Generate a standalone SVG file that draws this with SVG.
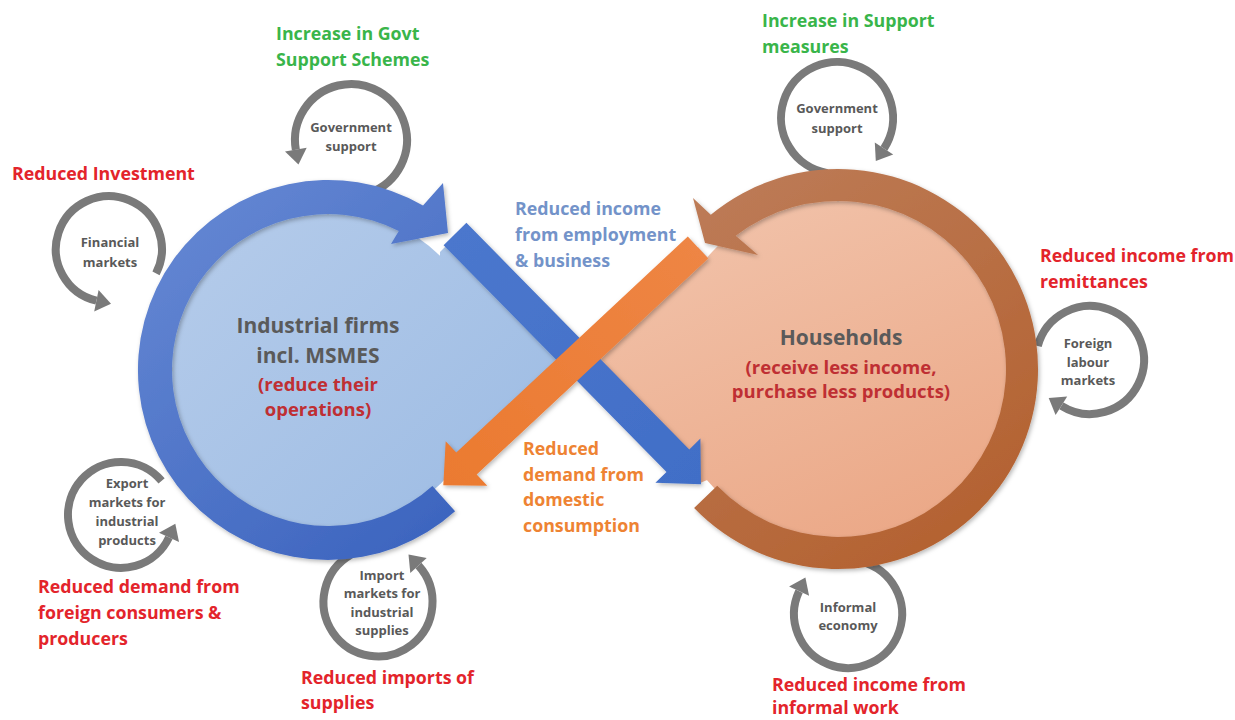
<svg xmlns="http://www.w3.org/2000/svg" width="1235" height="720" viewBox="0 0 1235 720">
  <defs>
    <linearGradient id="gFirmFill" gradientUnits="userSpaceOnUse" x1="200" y1="220" x2="480" y2="520">
      <stop offset="0" stop-color="#b4cbea"/>
      <stop offset="1" stop-color="#9fbde4"/>
    </linearGradient>
    <linearGradient id="gFirmRing" gradientUnits="userSpaceOnUse" x1="180" y1="200" x2="460" y2="540">
      <stop offset="0" stop-color="#6487d3"/>
      <stop offset="1" stop-color="#3b63be"/>
    </linearGradient>
    <linearGradient id="gHouseFill" gradientUnits="userSpaceOnUse" x1="760" y1="200" x2="900" y2="540">
      <stop offset="0" stop-color="#f1c1a8"/>
      <stop offset="1" stop-color="#eba887"/>
    </linearGradient>
    <linearGradient id="gHouseRing" gradientUnits="userSpaceOnUse" x1="700" y1="170" x2="980" y2="570">
      <stop offset="0" stop-color="#bd7c58"/>
      <stop offset="1" stop-color="#b3602e"/>
    </linearGradient>
    <linearGradient id="gBlueFlow" gradientUnits="userSpaceOnUse" x1="455" y1="234" x2="700" y2="484">
      <stop offset="0" stop-color="#4b77cd"/>
      <stop offset="1" stop-color="#416ec7"/>
    </linearGradient>
    <linearGradient id="gOrangeFlow" gradientUnits="userSpaceOnUse" x1="698" y1="247" x2="443" y2="485">
      <stop offset="0" stop-color="#ee8544"/>
      <stop offset="1" stop-color="#eb7a30"/>
    </linearGradient>
    <filter id="soft" x="-10%" y="-10%" width="120%" height="120%">
      <feDropShadow dx="1.5" dy="2" stdDeviation="2" flood-color="#000" flood-opacity="0.28"/>
    </filter>
  </defs>
  <style>
    .loop{fill:none;stroke:#7a7a7a;stroke-width:8}
    .loophead{fill:#7a7a7a}
    .lt{font-family:'Open Sans','Liberation Sans',sans-serif;font-weight:700;font-size:13px;fill:#595959;text-anchor:middle}
    .lbl{font-family:'Open Sans','Liberation Sans',sans-serif;font-weight:700;font-size:17.8px}
    .red{fill:#e3242b}
    .green{fill:#39b54a}
    .blue{fill:#7393c9}
    .orange{fill:#ee8333}
    .title{font-family:'Open Sans','Liberation Sans',sans-serif;font-weight:700;font-size:21px;fill:#5a5a5a;text-anchor:middle}
    .sub{font-family:'Open Sans','Liberation Sans',sans-serif;font-weight:700;font-size:18.5px;fill:#bf2f33;text-anchor:middle}
  </style>

  <rect width="1235" height="720" fill="#ffffff"/>

  <!-- small feedback loops around the two sectors -->
  <g id="govt-support-firms">
    <path class="loop" d="M370.2,192.6 A56,56 0 1 0 295.85,149.72"/>
    <polygon class="loophead" points="285.0,151.6 306.7,147.8 298.45,164.5"/>
    <text class="lt" x="351" y="132">Government</text>
    <text class="lt" x="351" y="151">support</text>
  </g>
  <g id="financial-markets">
    <path class="loop" d="M156.0,273.4 A53,53 0 1 0 96.4,300.7"/>
    <polygon class="loophead" points="94.2,311.5 98.6,289.9 111.0,303.7"/>
    <text class="lt" x="110" y="246.5">Financial</text>
    <text class="lt" x="110" y="266.5">markets</text>
  </g>
  <g id="export-markets">
    <path class="loop" d="M161.6,480.9 A53,53 0 1 0 169.0,537.4"/>
    <polygon class="loophead" points="179.0,542.0 159.0,532.8 175.3,523.8"/>
    <text class="lt" x="127" y="487.5">Export</text>
    <text class="lt" x="127" y="506.5">markets for</text>
    <text class="lt" x="127" y="525.5">industrial</text>
    <text class="lt" x="127" y="544.5">products</text>
  </g>
  <g id="import-markets">
    <path class="loop" d="M350.75,554.8 A54.5,54.5 0 1 0 418.5,565.5"/>
    <polygon class="loophead" points="426.7,558.1 410.3,572.9 408.5,554.4"/>
    <text class="lt" x="382" y="579.5">Import</text>
    <text class="lt" x="382" y="598">markets for</text>
    <text class="lt" x="382" y="616.5">industrial</text>
    <text class="lt" x="382" y="635">supplies</text>
  </g>
  <g id="govt-support-households">
    <path class="loop" d="M827.3,173.1 A56,56 0 1 1 884.0,148.5"/>
    <polygon class="loophead" points="893.2,154.5 874.8,142.5 875.8,161.1"/>
    <text class="lt" x="837" y="112.5">Government</text>
    <text class="lt" x="837" y="132.5">support</text>
  </g>
  <g id="foreign-labour-markets">
    <path class="loop" d="M1037.8,346.0 A54,54 0 1 1 1061.4,405.8"/>
    <polygon class="loophead" points="1055.6,415.1 1067.2,396.5 1048.7,397.9"/>
    <text class="lt" x="1088" y="347.5">Foreign</text>
    <text class="lt" x="1088" y="366.5">labour</text>
    <text class="lt" x="1088" y="385">markets</text>
  </g>
  <g id="informal-economy">
    <path class="loop" d="M862.0,561.8 A54,54 0 1 1 799.1,591.2"/>
    <polygon class="loophead" points="789.1,586.6 809.1,595.8 805.4,577.6"/>
    <text class="lt" x="848" y="611.5">Informal</text>
    <text class="lt" x="848" y="629.5">economy</text>
  </g>

  <!-- industrial firms sector -->
  <g id="industrial-firms">
    <g fill="url(#gFirmFill)">
      <circle cx="328" cy="370" r="160"/>
      <polygon points="578,359 456,236 440,252 440,470 452,477"/>
    </g>
    <path fill="url(#gFirmRing)" filter="url(#soft)" d="M455.1,511.2 A190,190 0 1 1 423,205.5 L443,183 L448,233 L391,244 L398.8,231 A156,156 0 1 0 432.4,485.9 Z"/>
  </g>

  <!-- households sector -->
  <g id="households">
    <g fill="url(#gHouseFill)">
      <circle cx="838" cy="369" r="172"/>
      <polygon points="578,359 698,247 712,262 712,478 700,483"/>
    </g>
    <path fill="url(#gHouseRing)" filter="url(#soft)" d="M694.1,507.9 A200,200 0 1 0 710.8,214.7 L693,198 L705,243 L758,255 L735.7,235.7 A168,168 0 1 1 717.2,485.7 Z"/>
  </g>

  <!-- flows between the sectors -->
  <g id="connectors" filter="url(#soft)">
    <polygon id="flow-income" fill="url(#gBlueFlow)" points="466.4,222.8 689.3,449.5 700.4,438.6 701,484.3 655.4,482.8 666.5,471.9 443.6,245.2"/>
    <polygon id="flow-demand" fill="url(#gOrangeFlow)" points="687.8,236.5 708.2,258.5 476.7,474.5 487.3,485.8 443.3,485.2 445.7,441.2 456.3,452.5"/>
  </g>

  <!-- sector captions -->
  <g id="firms-caption">
    <text class="title" x="318" y="333">Industrial firms</text>
    <text class="title" x="318" y="363">incl. MSMES</text>
    <text class="sub" x="318" y="391">(reduce their</text>
    <text class="sub" x="318" y="416">operations)</text>
  </g>
  <g id="households-caption">
    <text class="title" x="841" y="345">Households</text>
    <text class="sub" x="841" y="374">(receive less income,</text>
    <text class="sub" x="841" y="398">purchase less products)</text>
  </g>

  <!-- effect labels -->
  <g id="labels" class="lbl">
    <text class="green" x="276" y="40">Increase in Govt</text>
    <text class="green" x="276" y="66">Support Schemes</text>
    <text class="green" x="762" y="27">Increase in Support</text>
    <text class="green" x="762" y="53">measures</text>
    <text class="red" x="12" y="180">Reduced Investment</text>
    <text class="blue" x="515" y="215">Reduced income</text>
    <text class="blue" x="515" y="241">from employment</text>
    <text class="blue" x="515" y="267">&amp; business</text>
    <text class="red" x="1040" y="262">Reduced income from</text>
    <text class="red" x="1040" y="288">remittances</text>
    <text class="orange" x="523" y="455">Reduced</text>
    <text class="orange" x="523" y="481">demand from</text>
    <text class="orange" x="523" y="506">domestic</text>
    <text class="orange" x="523" y="532">consumption</text>
    <text class="red" x="38" y="593">Reduced demand from</text>
    <text class="red" x="38" y="619">foreign consumers &amp;</text>
    <text class="red" x="38" y="645">producers</text>
    <text class="red" x="301" y="684">Reduced imports of</text>
    <text class="red" x="301" y="709">supplies</text>
    <text class="red" x="772" y="691">Reduced income from</text>
    <text class="red" x="772" y="714">informal work</text>
  </g>
</svg>
